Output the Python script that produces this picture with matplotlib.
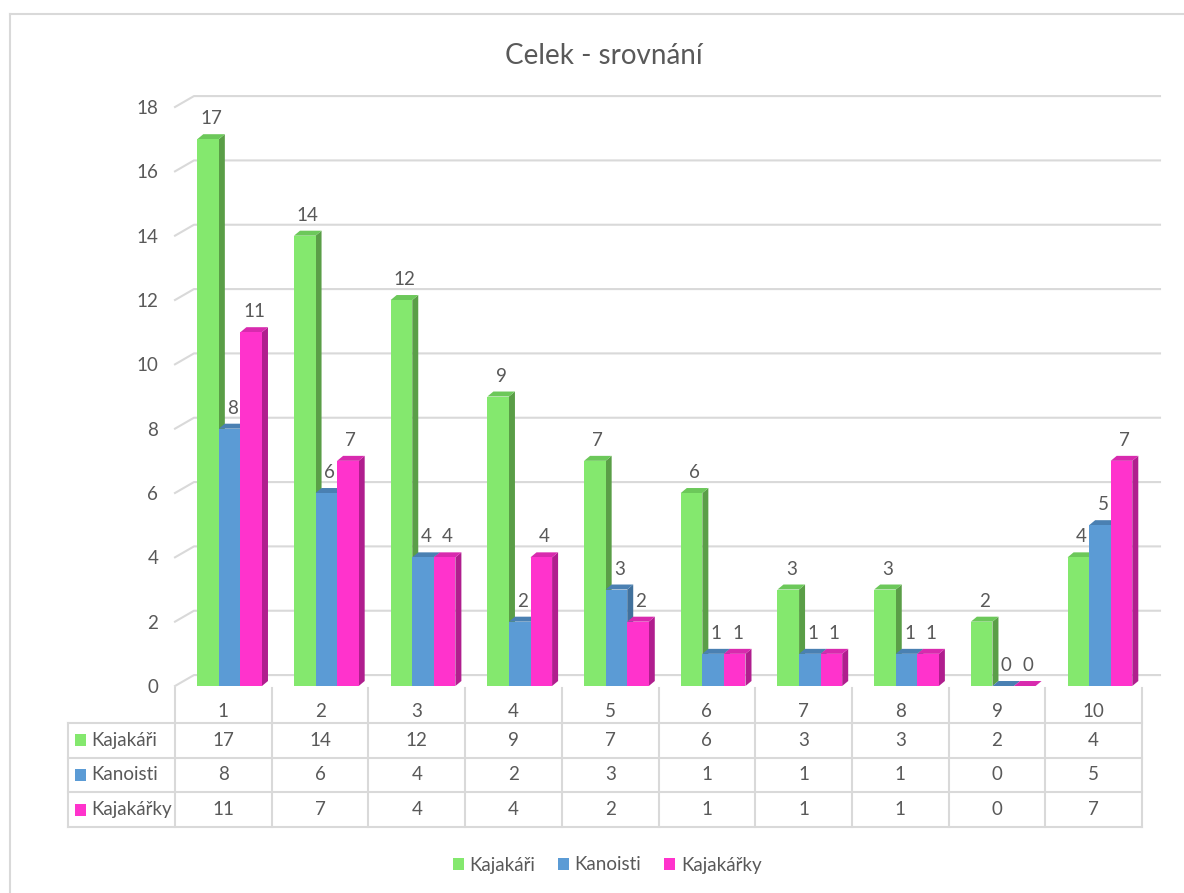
import matplotlib.pyplot as plt
from matplotlib.patches import Polygon, Rectangle
from matplotlib.lines import Line2D

plt.rcParams['font.family'] = ['Lato', 'DejaVu Sans']

categories = ['1', '2', '3', '4', '5', '6', '7', '8', '9', '10']
series_names = ['Kajakáři', 'Kanoisti', 'Kajakářky']
kajakari = [17, 14, 12, 9, 7, 6, 3, 3, 2, 4]
kanoisti = [8, 6, 4, 2, 3, 1, 1, 1, 0, 5]
kajakarky = [11, 7, 4, 4, 2, 1, 1, 1, 0, 7]
yticks = [0, 2, 4, 6, 8, 10, 12, 14, 16, 18]

series = [kajakari, kanoisti, kajakarky]
front = ['#84E86E', '#5B9BD5', '#FF33CC']
side = ['#5A9E47', '#41719C', '#B01E8E']
top = ['#6CC85A', '#4A80B2', '#D82AAE']
txt = '#595959'
grid = '#D9D9D9'

W, H = 1184, 893
fig = plt.figure(figsize=(W / 100, H / 100), dpi=100)


def px_axes(l, t, r, b):
    return fig.add_axes([l / W, 1 - b / H, (r - l) / W, (b - t) / H])


# outer chart border (only top and left visible in the crop)
fig.add_artist(Line2D([10 / W, 1], [1 - 14 / H, 1 - 14 / H], color=grid, lw=1.5))
fig.add_artist(Line2D([10 / W, 10 / W], [0, 1 - 14 / H], color=grid, lw=1.5))

fig.text(604 / W, 1 - 56 / H, 'Celek - srovnání', ha='center', va='center',
         fontsize=20, color=txt)

# main plot area
ax = px_axes(175, 80, 1160, 686)
ax.set_xlim(-0.5, 9.686)
ax.set_ylim(0, 18.84)
for s in ax.spines.values():
    s.set_visible(False)
ax.set_xticks([])
ax.set_yticks(yticks)
ax.tick_params(axis='y', length=0, pad=12, labelsize=13.5, labelcolor=txt)

wdx, wdy = 0.196, 0.34  # back wall offset
for v in yticks:
    ax.plot([-0.5, -0.5 + wdx, 9.686], [v, v + wdy, v + wdy], color=grid,
            lw=1.5, zorder=0, clip_on=False)

w = 0.223
bdx, bdy = 0.062, 0.155  # bar depth
for s, vals in enumerate(series):
    for i, v in enumerate(vals):
        x = i + 0.065 + (s - 1.5) * w
        z = 2 + s
        ax.add_patch(Polygon([(x + w, 0), (x + w + bdx, bdy), (x + w + bdx, v + bdy), (x + w, v)],
                             closed=True, facecolor=side[s], edgecolor='none', zorder=z))
        ax.add_patch(Polygon([(x, v), (x + bdx, v + bdy), (x + w + bdx, v + bdy), (x + w, v)],
                             closed=True, facecolor=top[s], edgecolor='none', zorder=z))
        ax.bar(x, v, width=w, align='edge', color=front[s], zorder=z + 0.5)
        ax.annotate(str(v), (x + w / 2 + bdx / 2, v + bdy), xytext=(0, 5),
                    textcoords='offset points', ha='center', va='bottom',
                    fontsize=13.5, color=txt, zorder=10)

# data table
tb = px_axes(68, 688, 1160, 827)
tb.set_xlim(-0.5 - 107 / 96.7, 9.686)
tb.set_ylim(4, 0)
tb.axis('off')
left = -0.5 - 107 / 96.7
for k in range(len(categories) + 1):
    tb.plot([k - 0.5, k - 0.5], [0, 4], color=grid, lw=1.5, clip_on=False)
tb.plot([left, left], [1, 4], color=grid, lw=1.5, clip_on=False)
for r in range(1, 5):
    tb.plot([left, 9.5], [r, r], color=grid, lw=1.5, clip_on=False)
for i, c in enumerate(categories):
    tb.text(i, 0.68, c, ha='center', va='center', fontsize=13.5, color=txt)
for s, vals in enumerate(series):
    yc = s + 1.5
    tb.add_patch(Rectangle((left + 0.07, yc - 0.17), 0.12, 0.34, facecolor=front[s],
                           edgecolor='none'))
    tb.text(left + 0.245, yc, series_names[s], ha='left', va='center', fontsize=13.5, color=txt)
    for i, v in enumerate(vals):
        tb.text(i, yc, str(v), ha='center', va='center', fontsize=13.5, color=txt)

handles = [Rectangle((0, 0), 1, 1, facecolor=front[s], edgecolor='none') for s in range(3)]
fig.legend(handles, series_names, loc='center', bbox_to_anchor=(607 / W, 1 - 865 / H),
           ncol=3, frameon=False, fontsize=13.5, labelcolor=txt, handlelength=0.6,
           handleheight=0.6, handletextpad=0.3, columnspacing=1.2)

fig.savefig('out.png', dpi=100)
